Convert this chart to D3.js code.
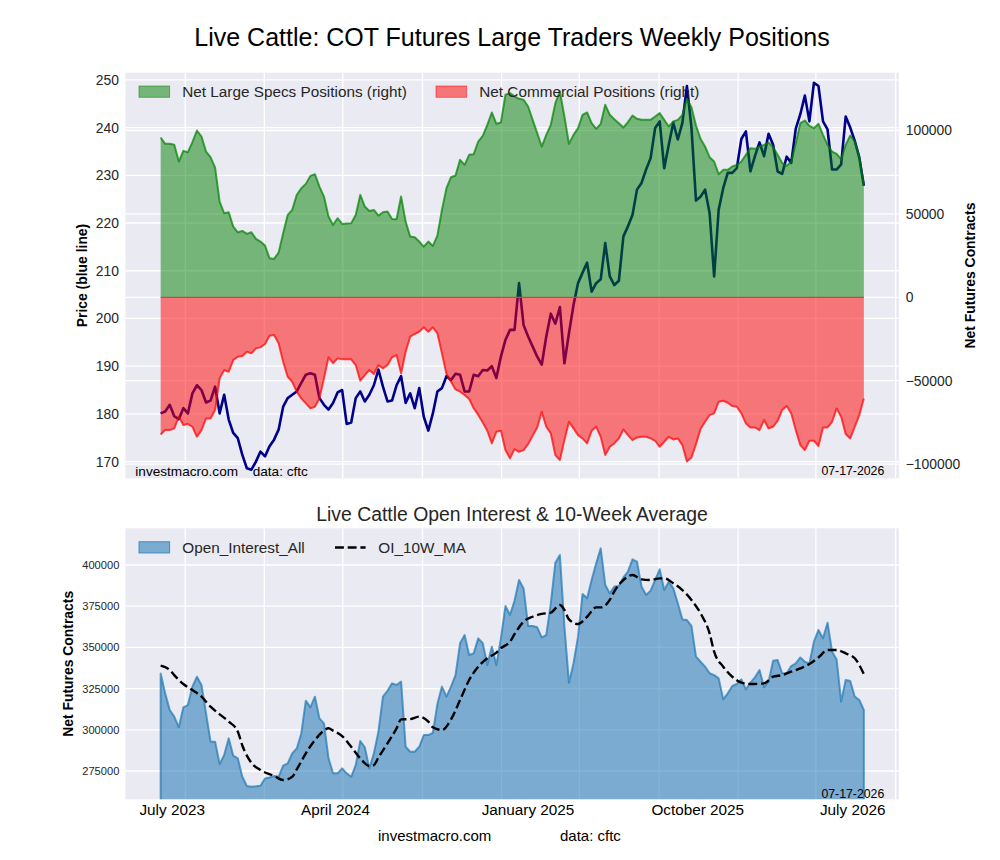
<!DOCTYPE html>
<html>
<head>
<meta charset="utf-8">
<script src="https://cdn.jsdelivr.net/npm/d3@7"></script>
<style>
  body { margin: 0; background: #fff; }
  svg text { font-family: "Liberation Sans", Arial, sans-serif; }
</style>
</head>
<body>
<svg id="chart" width="1000" height="860"></svg>
<script>
// weekly COT data, first report 2023-07-25, one value per week
const firstWeek = new Date(2023, 6, 25);

const price = [
  180.1, 180.5, 181.9, 179.5, 178.9, 181.2, 180.1, 184.3, 186.0, 185.0,
  182.4, 182.8, 185.7, 180.1, 184.0, 178.8, 176.0, 174.9, 171.4, 168.6,
  168.3, 170.0, 172.1, 171.1, 173.2, 174.6, 176.7, 181.5, 183.3, 184.0,
  184.7, 186.5, 188.2, 188.5, 188.2, 183.3, 181.9, 180.9, 182.3, 184.5,
  185.0, 177.9, 178.2, 183.3, 184.7, 182.6, 184.0, 186.0, 189.3, 185.7,
  182.6, 182.8, 186.0, 187.9, 182.3, 184.3, 181.2, 185.4, 179.4, 176.5,
  180.1, 184.7, 185.4, 187.9, 187.1, 188.4, 188.2, 184.7, 184.7, 188.2,
  187.9, 189.2, 189.1, 190.0, 187.5, 192.0, 195.5, 197.6, 197.6, 207.4,
  198.6, 196.2, 194.1, 192.0, 190.3, 196.2, 201.0, 198.9, 202.4, 190.6,
  196.9, 202.8, 207.4, 209.6, 211.7, 205.6, 207.4, 208.2, 215.8, 208.8,
  207.0, 207.9, 217.2, 219.3, 221.7, 227.0, 228.4, 231.2, 233.6, 239.9,
  241.3, 231.5, 236.4, 241.0, 237.5, 241.0, 248.7, 240.0, 224.7, 225.5,
  227.0, 222.1, 208.8, 222.8, 227.3, 230.5, 230.5, 231.5, 237.6, 239.2,
  230.8, 234.0, 236.9, 234.0, 238.7, 236.4, 230.8, 230.3, 233.9, 232.6,
  239.8, 242.8, 246.7, 241.3, 249.4, 248.7, 241.3, 239.6, 231.2, 231.2,
  232.3, 242.3, 240.0, 237.2, 233.7, 227.8
];

// net positions in thousands of contracts
const largeSpecs = [
  95.8, 92.0, 92.0, 91.4, 81.4, 87.8, 87.0, 93.0, 100.0, 96.4,
  87.4, 84.0, 77.8, 57.4, 50.4, 51.0, 42.4, 39.0, 39.8, 38.0,
  39.0, 35.0, 33.4, 31.0, 23.4, 23.0, 26.8, 38.4, 49.4, 52.4,
  61.4, 65.4, 68.0, 72.8, 73.8, 66.4, 60.4, 48.4, 43.4, 47.4,
  44.0, 44.2, 44.4, 49.4, 61.4, 54.4, 51.8, 52.4, 49.0, 51.0,
  51.4, 47.0, 46.8, 60.4, 45.4, 36.4, 36.0, 33.4, 30.4, 33.4,
  30.8, 37.0, 52.4, 65.4, 72.0, 73.0, 82.4, 79.4, 85.4, 85.8,
  93.4, 96.8, 103.4, 110.8, 104.0, 104.8, 121.4, 122.4, 120.5, 119.0,
  118.4, 114.4, 106.4, 98.4, 90.4, 97.4, 103.4, 116.4, 123.4, 108.4,
  92.0, 97.4, 101.4, 109.4, 110.8, 104.4, 101.0, 104.0, 115.4, 109.4,
  106.8, 104.4, 101.8, 105.0, 109.0, 107.0, 106.4, 106.4, 106.4, 108.4,
  110.4, 106.4, 102.4, 105.4, 106.4, 109.4, 119.0, 114.0, 103.0, 95.0,
  90.4, 84.0, 81.4, 73.8, 76.4, 76.4, 78.4, 79.4, 81.4, 85.4,
  89.4, 89.0, 90.4, 91.4, 92.8, 90.0, 85.5, 80.5, 78.8, 81.4,
  92.4, 104.4, 106.0, 102.8, 101.4, 104.0, 97.4, 91.4, 87.4, 86.0,
  82.8, 91.4, 97.0, 93.4, 84.4, 67.4
];

const commercial = [
  -82.2, -79.6, -79.6, -78.6, -71.6, -76.6, -76.0, -77.6, -83.6, -79.6,
  -72.6, -72.6, -67.6, -48.6, -43.6, -44.6, -37.6, -35.6, -35.2, -32.6,
  -33.6, -30.6, -30.0, -28.0, -23.0, -22.6, -27.6, -38.6, -47.6, -50.6,
  -56.6, -60.6, -63.6, -66.6, -65.6, -60.6, -48.6, -36.0, -39.5, -36.6,
  -37.2, -37.2, -37.2, -40.6, -50.0, -46.6, -43.6, -46.0, -40.6, -42.6,
  -40.6, -36.0, -34.6, -45.6, -32.6, -23.6, -22.0, -20.6, -18.0, -20.6,
  -18.0, -21.6, -33.6, -46.0, -50.6, -55.2, -56.6, -58.6, -61.0, -66.5,
  -70.5, -75.0, -80.0, -87.6, -80.6, -80.0, -91.6, -96.5, -91.0, -92.6,
  -91.6, -88.0, -83.0, -78.0, -68.6, -77.6, -81.6, -94.6, -97.6, -85.6,
  -74.6, -78.6, -82.6, -84.6, -87.6, -80.0, -77.6, -83.6, -94.6, -89.6,
  -87.6, -84.6, -79.2, -82.6, -85.6, -84.0, -83.6, -83.6, -84.5, -86.0,
  -89.6, -86.6, -83.6, -85.2, -84.6, -88.6, -98.4, -96.0, -88.0, -79.0,
  -74.6, -70.6, -69.6, -62.6, -62.0, -63.2, -65.2, -65.6, -69.6, -75.6,
  -78.0, -78.0, -79.6, -73.6, -78.6, -77.6, -74.0, -67.6, -65.2, -69.6,
  -79.6, -88.6, -91.6, -86.0, -86.0, -89.2, -78.0, -78.0, -74.6, -66.6,
  -71.6, -82.0, -84.6, -77.6, -70.6, -60.6
];

// open interest in thousands of contracts
const openInterest = [
  334.2, 322.1, 312.0, 308.0, 301.5, 313.6, 315.0, 326.2, 332.2, 327.2,
  310.0, 292.8, 292.8, 279.2, 284.7, 294.8, 284.3, 282.7, 271.5, 265.9,
  265.5, 265.7, 266.1, 270.5, 271.1, 272.0, 271.5, 278.2, 279.6, 285.7,
  288.7, 297.8, 317.7, 313.6, 320.1, 306.9, 303.9, 282.7, 273.6, 273.6,
  276.6, 273.6, 271.5, 278.6, 293.2, 289.4, 276.6, 285.7, 298.9, 320.1,
  323.7, 328.2, 327.2, 329.2, 289.7, 286.7, 286.7, 289.7, 296.8, 296.8,
  298.2, 315.6, 326.2, 320.1, 326.2, 333.2, 352.5, 357.5, 345.4, 346.4,
  355.5, 352.5, 339.3, 350.4, 339.3, 355.5, 375.1, 369.7, 378.3, 390.9,
  385.8, 363.0, 363.0, 362.2, 356.1, 357.5, 376.7, 401.4, 406.1, 362.6,
  328.6, 340.3, 356.5, 382.4, 379.8, 390.9, 401.0, 410.1, 387.9, 382.8,
  386.9, 387.3, 392.5, 396.0, 403.4, 402.0, 386.9, 381.8, 384.4, 390.9,
  397.4, 384.8, 389.9, 385.8, 376.7, 367.0, 366.6, 363.0, 344.4, 341.3,
  338.3, 334.3, 333.2, 331.2, 318.5, 322.1, 326.6, 327.8, 330.6, 324.5,
  328.6, 331.8, 336.3, 325.8, 329.2, 341.9, 342.3, 334.3, 334.3, 338.7,
  340.3, 343.9, 341.3, 340.3, 353.5, 360.6, 355.5, 365.0, 347.4, 342.7,
  317.1, 330.2, 329.6, 320.1, 318.1, 312.0
];

// 10 week average, read at these week numbers
const maWeek = [0, 2, 3, 5, 7, 9, 11, 13, 15, 17, 18, 20, 22, 25, 27, 29, 30, 32, 34, 36,
  37, 38, 40, 42, 44, 46, 47, 48, 50, 52, 53, 55, 57, 59, 60, 62, 64, 66, 68, 70,
  72, 74, 75, 77, 78, 80, 82, 84, 86, 88, 89, 90, 92, 94, 96, 97, 99, 100, 102, 104,
  106, 108, 110, 111, 113, 115, 117, 119, 121, 122, 124, 126, 128, 130, 133, 135, 137, 139, 141, 143,
  145, 147, 149, 151, 153, 154, 155];
const maValue = [338.9, 336.3, 333.2, 327.8, 324.1, 320.1, 314.0, 309.4, 305.0, 298.9, 290.5, 280.0, 275.6, 272.0, 269.5, 271.5, 276.0, 285.7, 293.8, 299.5,
  300.9, 299.5, 296.2, 289.7, 282.7, 278.0, 278.6, 283.2, 291.8, 300.9, 306.3, 306.5, 308.0, 305.0, 301.5, 299.9, 306.3, 318.1, 330.2, 338.3,
  343.4, 346.8, 349.5, 353.5, 358.0, 365.6, 368.6, 370.3, 371.1, 375.7, 372.7, 367.0, 364.2, 368.6, 374.3, 374.3, 378.8, 384.0, 390.9, 393.9,
  391.3, 390.9, 391.9, 391.9, 388.9, 384.8, 378.8, 370.7, 358.5, 347.4, 338.3, 332.2, 328.6, 327.8, 328.2, 332.2, 333.2, 335.3, 337.3, 339.9,
  343.9, 348.4, 348.4, 346.4, 343.4, 339.3, 333.8];

const priceTicks = [170, 180, 190, 200, 210, 220, 230, 240, 250];
const netTicks = [-100000, -50000, 0, 50000, 100000];
const oiTicks = [275000, 300000, 325000, 350000, 375000, 400000];
const xTickDates = [new Date(2023, 7, 11), new Date(2024, 3, 19), new Date(2025, 1, 10), new Date(2025, 9, 30), new Date(2026, 5, 26)];
const xTickLabels = ["July 2023", "April 2024", "January 2025", "October 2025", "July 2026"];

const svg = d3.select("#chart");
const left = 125.5, right = 899;
const t1 = 72.7, b1 = 478.3, t2 = 528.3, b2 = 799.3;
const bg = "#eaeaf2", txt = "#262626";

const weeks = price.map((d, i) => d3.timeDay.offset(firstWeek, 7 * i));
const span = weeks[weeks.length - 1] - weeks[0];
const x = d3.scaleTime()
  .domain([new Date(+weeks[0] - 0.05 * span), new Date(+weeks[weeks.length - 1] + 0.05 * span)])
  .range([left, right]);
const gridDates = x.ticks(d3.timeMonth.every(4));

const yPrice = d3.scaleLinear().domain([166.5, 251.5]).range([b1, t1]);
const yNet = d3.scaleLinear().domain([-108500, 134650]).range([b1, t1]);
const yOI = d3.scaleLinear().domain([257830, 422270]).range([b2, t2]);

const defs = svg.append("defs");
defs.append("clipPath").attr("id", "clip1").append("rect")
  .attr("x", left).attr("y", t1).attr("width", right - left).attr("height", b1 - t1);
defs.append("clipPath").attr("id", "clip2").append("rect")
  .attr("x", left).attr("y", t2).attr("width", right - left).attr("height", b2 - t2);

// titles
svg.append("text").attr("x", 512).attr("y", 46).attr("text-anchor", "middle")
  .attr("font-size", 25).attr("fill", "#000")
  .text("Live Cattle: COT Futures Large Traders Weekly Positions");
svg.append("text").attr("x", 512).attr("y", 521).attr("text-anchor", "middle")
  .attr("font-size", 19.4).attr("fill", txt)
  .text("Live Cattle Open Interest & 10-Week Average");

// ---------- top panel ----------
const g1 = svg.append("g");
g1.append("rect").attr("x", left).attr("y", t1).attr("width", right - left).attr("height", b1 - t1).attr("fill", bg);

const grid1 = g1.append("g").attr("clip-path", "url(#clip1)").attr("stroke", "#fff").attr("stroke-width", 1.3);
grid1.selectAll(".gp").data(priceTicks).join("line")
  .attr("x1", left).attr("x2", right).attr("y1", d => yPrice(d)).attr("y2", d => yPrice(d));
grid1.selectAll(".gn").data(netTicks).join("line").attr("class", "gn")
  .attr("x1", left).attr("x2", right).attr("y1", d => yNet(d)).attr("y2", d => yNet(d));
grid1.selectAll(".gx").data(gridDates).join("line").attr("class", "gx")
  .attr("y1", t1).attr("y2", b1).attr("x1", d => x(d)).attr("x2", d => x(d));

const plot1 = g1.append("g").attr("clip-path", "url(#clip1)");
plot1.append("path").datum(price)
  .attr("fill", "none").attr("stroke", "#00008b").attr("stroke-width", 2.6).attr("stroke-linejoin", "round")
  .attr("d", d3.line().x((d, i) => x(weeks[i])).y(d => yPrice(d)));

const netArea = d3.area().x((d, i) => x(weeks[i])).y0(yNet(0)).y1(d => yNet(d * 1000));
const netLine = d3.line().x((d, i) => x(weeks[i])).y(d => yNet(d * 1000));
plot1.append("path").datum(largeSpecs).attr("fill", "green").attr("fill-opacity", 0.5).attr("d", netArea);
plot1.append("path").datum(commercial).attr("fill", "red").attr("fill-opacity", 0.5).attr("d", netArea);
plot1.append("path").datum(largeSpecs).attr("fill", "none").attr("stroke", "green").attr("stroke-opacity", 0.7)
  .attr("stroke-width", 2).attr("stroke-linejoin", "round").attr("d", netLine);
plot1.append("path").datum(commercial).attr("fill", "none").attr("stroke", "red").attr("stroke-opacity", 0.7)
  .attr("stroke-width", 2).attr("stroke-linejoin", "round").attr("d", netLine);
plot1.append("line").attr("x1", x(weeks[0])).attr("x2", x(weeks[weeks.length - 1]))
  .attr("y1", yNet(0)).attr("y2", yNet(0)).attr("stroke", "#b9503a").attr("stroke-width", 1.2);

// axes
const axL = g1.append("g").attr("transform", `translate(${left},0)`)
  .call(d3.axisLeft(yPrice).tickValues(priceTicks).tickSize(0).tickPadding(6.5));
const axR = g1.append("g").attr("transform", `translate(${right},0)`)
  .call(d3.axisRight(yNet).tickValues(netTicks).tickSize(0).tickPadding(6.7)
    .tickFormat(d => d < 0 ? "\u2212" + Math.abs(d) : String(d)));
[axL, axR].forEach(a => {
  a.select(".domain").remove();
  a.selectAll("text").attr("font-size", 13.9).attr("fill", txt).attr("font-family", "Liberation Sans, Arial, sans-serif");
});

svg.append("text").attr("transform", "translate(87,275.5) rotate(-90)").attr("text-anchor", "middle")
  .attr("font-size", 13.9).attr("font-weight", "bold").attr("fill", "#000").text("Price (blue line)");
svg.append("text").attr("transform", "translate(975,275.5) rotate(-90)").attr("text-anchor", "middle")
  .attr("font-size", 13.9).attr("font-weight", "bold").attr("fill", "#000").text("Net Futures Contracts");

// legend top
const leg1 = [
  { label: "Net Large Specs Positions (right)", color: "green", x: 139 },
  { label: "Net Commercial Positions (right)", color: "red", x: 436 }
];
leg1.forEach(l => {
  g1.append("rect").attr("x", l.x).attr("y", 86).attr("width", 30.6).attr("height", 11.3)
    .attr("fill", l.color).attr("fill-opacity", 0.5).attr("stroke", l.color).attr("stroke-opacity", 0.5);
  g1.append("text").attr("x", l.x + 43.3).attr("y", 97.3).attr("font-size", 15.3).attr("fill", txt).text(l.label);
});

g1.append("text").attr("x", 135.3).attr("y", 476).attr("font-size", 13.6).attr("fill", "#000").text("investmacro.com");
g1.append("text").attr("x", 252.7).attr("y", 476).attr("font-size", 13.6).attr("fill", "#000").text("data: cftc");
g1.append("text").attr("x", 884.3).attr("y", 475).attr("text-anchor", "end").attr("font-size", 12.3).attr("fill", "#000").text("07-17-2026");

// ---------- bottom panel ----------
const g2 = svg.append("g");
g2.append("rect").attr("x", left).attr("y", t2).attr("width", right - left).attr("height", b2 - t2).attr("fill", bg);
const grid2 = g2.append("g").attr("clip-path", "url(#clip2)").attr("stroke", "#fff").attr("stroke-width", 1.3);
grid2.selectAll(".go").data(oiTicks).join("line").attr("class", "go")
  .attr("x1", left).attr("x2", right).attr("y1", d => yOI(d)).attr("y2", d => yOI(d));
grid2.selectAll(".gx").data(gridDates).join("line").attr("class", "gx")
  .attr("y1", t2).attr("y2", b2).attr("x1", d => x(d)).attr("x2", d => x(d));

const plot2 = g2.append("g").attr("clip-path", "url(#clip2)");
plot2.append("path").datum(openInterest)
  .attr("fill", "#1f77b4").attr("fill-opacity", 0.55)
  .attr("stroke", "#1f77b4").attr("stroke-opacity", 0.7).attr("stroke-width", 2).attr("stroke-linejoin", "round")
  .attr("d", d3.area().x((d, i) => x(weeks[i])).y0(yOI(0)).y1(d => yOI(d * 1000)));
plot2.append("path").datum(maValue)
  .attr("fill", "none").attr("stroke", "#000").attr("stroke-width", 2.4).attr("stroke-dasharray", "8.9,3.8")
  .attr("d", d3.line().curve(d3.curveMonotoneX).x((d, i) => x(weeks[maWeek[i]])).y(d => yOI(d * 1000)));

const axO = g2.append("g").attr("transform", `translate(${left},0)`)
  .call(d3.axisLeft(yOI).tickValues(oiTicks).tickSize(0).tickPadding(6.2).tickFormat(d3.format("d")));
axO.select(".domain").remove();
axO.selectAll("text").attr("font-size", 11.1).attr("fill", txt).attr("font-family", "Liberation Sans, Arial, sans-serif");

const axX = g2.append("g").attr("transform", `translate(0,${b2})`)
  .call(d3.axisBottom(x).tickValues(xTickDates).tickSize(0).tickPadding(4.8).tickFormat((d, i) => xTickLabels[i]));
axX.select(".domain").remove();
axX.selectAll("text").attr("font-size", 15.3).attr("fill", "#000").attr("font-family", "Liberation Sans, Arial, sans-serif");

svg.append("text").attr("transform", "translate(73,663.8) rotate(-90)").attr("text-anchor", "middle")
  .attr("font-size", 13.9).attr("font-weight", "bold").attr("fill", "#000").text("Net Futures Contracts");

// legend bottom
g2.append("rect").attr("x", 139).attr("y", 541.7).attr("width", 30.6).attr("height", 11.3)
  .attr("fill", "#1f77b4").attr("fill-opacity", 0.55).attr("stroke", "#1f77b4").attr("stroke-opacity", 0.7);
g2.append("text").attr("x", 182.3).attr("y", 553).attr("font-size", 15.3).attr("fill", txt).text("Open_Interest_All");
g2.append("line").attr("x1", 335).attr("x2", 365.6).attr("y1", 547.5).attr("y2", 547.5)
  .attr("stroke", "#000").attr("stroke-width", 2.4).attr("stroke-dasharray", "8.9,3.8");
g2.append("text").attr("x", 378.3).attr("y", 553).attr("font-size", 15.3).attr("fill", txt).text("OI_10W_MA");

g2.append("text").attr("x", 884.3).attr("y", 797.7).attr("text-anchor", "end").attr("font-size", 12.3).attr("fill", "#000").text("07-17-2026");

svg.append("text").attr("x", 378).attr("y", 841).attr("font-size", 15).attr("fill", "#000").text("investmacro.com");
svg.append("text").attr("x", 560).attr("y", 841).attr("font-size", 15).attr("fill", "#000").text("data: cftc");
</script>
</body>
</html>
